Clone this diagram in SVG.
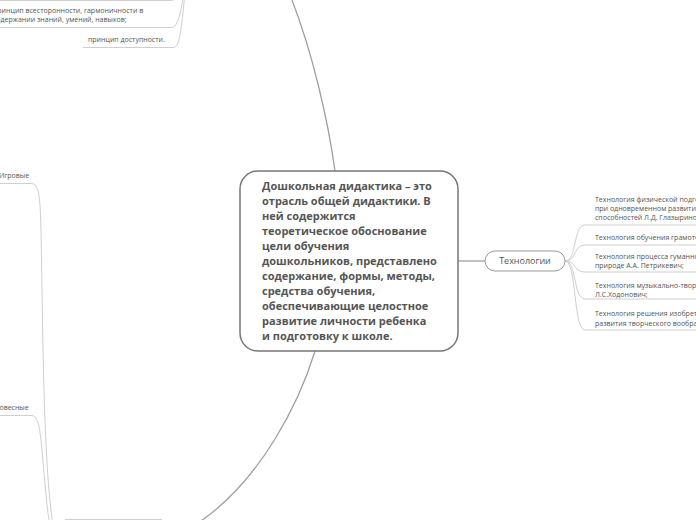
<svg xmlns="http://www.w3.org/2000/svg" width="696" height="520" viewBox="0 0 696 520">
<style>
.main{fill:none;stroke:#a0a0a0;stroke-width:1.3}
.sub{fill:none;stroke:#cfcfcf;stroke-width:1}
.t{font-family:"Open Sans","DejaVu Sans",sans-serif;fill:#555;font-size:7px}
.ctr{font-family:"Open Sans","DejaVu Sans",sans-serif;fill:#555;font-size:11px;font-weight:bold}
</style>
<rect width="696" height="520" fill="#ffffff"/>
<g id="connectors">
<path class="main" d="M335,171 C328,120 312,50 290,-5"/>
<path class="main" d="M315,351 C300,400 262,480 198,523"/>
<path class="main" d="M458,261 H485"/>
<path class="sub" d="M565,261 C577,261 573,225 585,225 H700"/>
<path class="sub" d="M565,261 C577,261 573,245 585,245 H700"/>
<path class="sub" d="M565,261 C577,261 573,272 585,272 H700"/>
<path class="sub" d="M565,261 C577,261 573,299 585,299 H700"/>
<path class="sub" d="M565,261 C577,261 573,330 585,330 H700"/>
<path class="sub" d="M-5,0.5 H170 C175,0.5 177,-2 178,-6"/>
<path class="sub" d="M-5,27.5 H171 C178,27.5 180,15 184,-6"/>
<path class="sub" d="M83,47.5 H173 C180,47.5 181,30 185,-6"/>
<path class="sub" d="M-5,183.5 H31 C39,183.5 40,195 41,230 C43,330 43,460 53,525"/>
<path class="sub" d="M-5,415.5 H31 C38,415.5 39,425 41,440 C45,480 46,505 50,525"/>
<path class="sub" d="M65,519.5 H162"/>
</g>
<g id="top-item-1">
<text class="t" x="-7" y="13">принцип всесторонности, гармоничности в</text>
<text class="t" x="-7" y="22">содержании знаний, умений, навыков;</text>
</g>
<g id="top-item-2">
<text class="t" x="88" y="42">принцип доступности.</text>
</g>
<g id="left-item-1">
<text class="t" x="-1" y="178">Игровые</text>
</g>
<g id="left-item-2">
<text class="t" x="-9" y="410">Словесные</text>
</g>
<g id="center">
<rect x="240" y="171" width="218" height="180" rx="18" fill="#fff" stroke="#777" stroke-width="1.5"/>
<text class="ctr" x="262" y="190">Дошкольная дидактика – это</text>
<text class="ctr" x="262" y="205">отрасль общей дидактики. В</text>
<text class="ctr" x="262" y="220">ней содержится</text>
<text class="ctr" x="262" y="235">теоретическое обоснование</text>
<text class="ctr" x="262" y="250">цели обучения</text>
<text class="ctr" x="262" y="265">дошкольников, представлено</text>
<text class="ctr" x="262" y="280">содержание, формы, методы,</text>
<text class="ctr" x="262" y="295">средства обучения,</text>
<text class="ctr" x="262" y="310">обеспечивающие целостное</text>
<text class="ctr" x="262" y="325">развитие личности ребенка</text>
<text class="ctr" x="262" y="340">и подготовку к школе.</text>
</g>
<g id="tech">
<rect x="485" y="251" width="80" height="20" rx="10" fill="#fff" stroke="#999" stroke-width="1"/>
<text class="t" x="525" y="264" text-anchor="middle" style="font-size:9px">Технологии</text>
</g>
<g id="tech-1">
<text class="t" x="595" y="202">Технология физической подготовки детей</text>
<text class="t" x="595" y="211">при одновременном развитии</text>
<text class="t" x="595" y="220">способностей Л.Д. Глазыриной;</text>
</g>
<g id="tech-2">
<text class="t" x="595" y="240">Технология обучения грамоте</text>
</g>
<g id="tech-3">
<text class="t" x="595" y="259">Технология процесса гуманного отношения к</text>
<text class="t" x="595" y="268">природе А.А. Петрикевич;</text>
</g>
<g id="tech-4">
<text class="t" x="595" y="288">Технология музыкально-творческого</text>
<text class="t" x="595" y="297">Л.С.Ходонович;</text>
</g>
<g id="tech-5">
<text class="t" x="595" y="316">Технология решения изобретательских задач</text>
<text class="t" x="595" y="326">развития творческого воображения</text>
</g>
</svg>
